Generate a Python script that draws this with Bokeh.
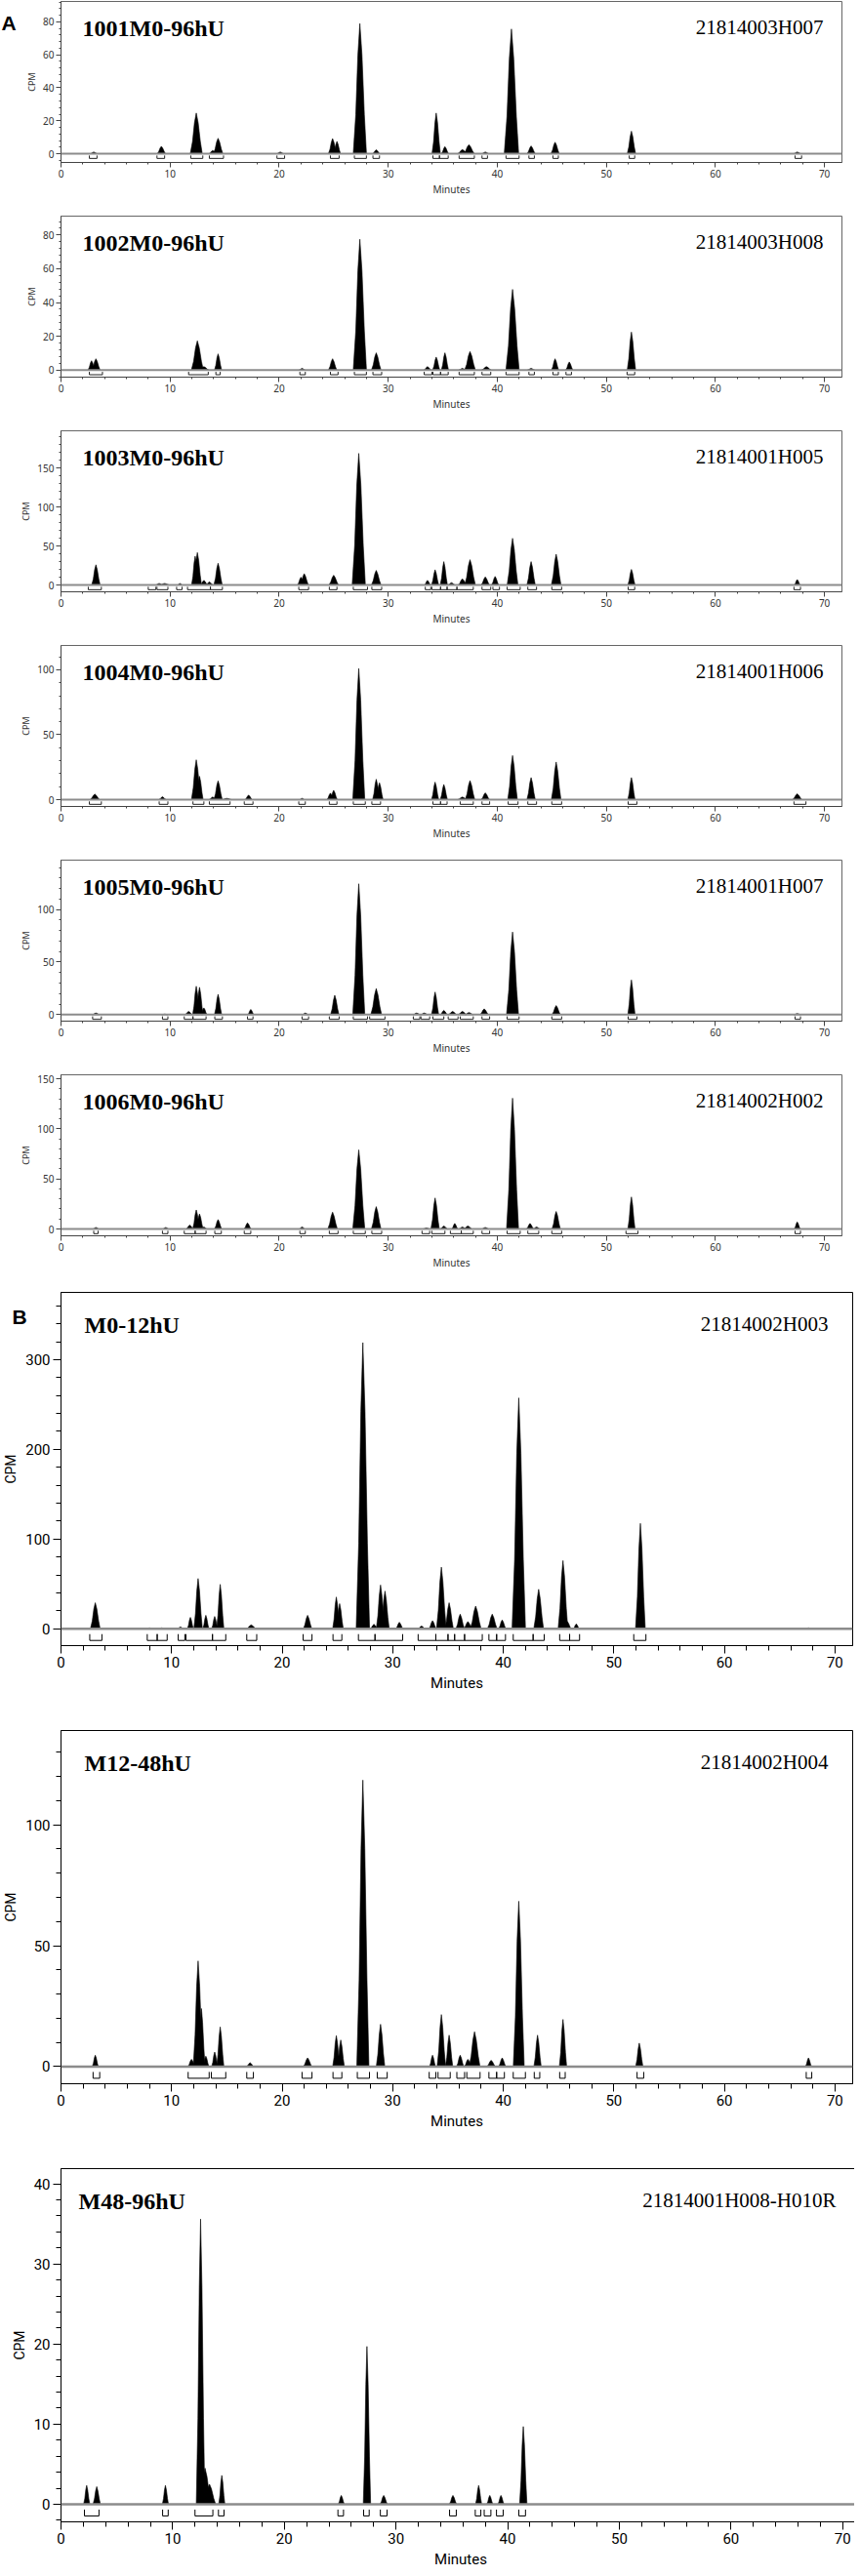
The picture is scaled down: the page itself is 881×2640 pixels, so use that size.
from bokeh.plotting import figure
from bokeh.models import Range1d, FixedTicker, Span, Label
from bokeh.layouts import column
from bokeh.embed import file_html
from bokeh.resources import INLINE
import numpy as np

# ---------------- data ----------------
minutes_ticks = [0, 10, 20, 30, 40, 50, 60, 70]

titles = ["1001M0-96hU", "1002M0-96hU", "1003M0-96hU", "1004M0-96hU", "1005M0-96hU",
          "1006M0-96hU", "M0-12hU", "M12-48hU", "M48-96hU"]
run_ids = ["21814003H007", "21814003H008", "21814001H005", "21814001H006", "21814001H007",
           "21814002H002", "21814002H003", "21814002H004", "21814001H008-H010R"]
panel_letters = {0: "A", 6: "B"}

# y-axis major ticks
y_ticks_1 = [0, 20, 40, 60, 80]
y_ticks_2 = [0, 20, 40, 60, 80]
y_ticks_3 = [0, 50, 100, 150]
y_ticks_4 = [0, 50, 100]
y_ticks_5 = [0, 50, 100]
y_ticks_6 = [0, 50, 100, 150]
y_ticks_7 = [0, 100, 200, 300]
y_ticks_8 = [0, 50, 100]
y_ticks_9 = [0, 10, 20, 30, 40]

# peak retention times (min), heights (CPM) and half base widths (min)
t1 = [3.0, 9.2, 12.4, 13.9, 14.4, 20.1, 24.9, 25.3, 27.4, 28.9, 34.4, 35.2, 36.8, 37.4, 38.9, 41.3, 43.1, 45.3, 52.3, 67.5]
h1 = [1.0, 4.5, 24.7, 2.0, 9.4, 1.0, 9.2, 7.5, 79.0, 2.4, 24.7, 4.3, 2.5, 5.5, 1.0, 75.7, 4.7, 7.0, 13.7, 1.0]
w1 = [0.3, 0.35, 0.5, 0.3, 0.4, 0.3, 0.35, 0.3, 0.55, 0.3, 0.35, 0.3, 0.4, 0.45, 0.3, 0.6, 0.35, 0.35, 0.35, 0.3]

t2 = [2.8, 3.2, 12.5, 13.1, 14.4, 22.1, 24.9, 27.4, 28.9, 33.6, 34.4, 35.2, 36.8, 37.5, 39.0, 41.4, 43.1, 45.3, 46.6, 52.3]
h2 = [5.5, 6.7, 17.3, 2.0, 9.6, 1.0, 6.7, 77.5, 10.2, 2.0, 7.7, 10.2, 1.0, 11.0, 2.0, 47.8, 1.0, 6.7, 4.8, 22.5]
w2 = [0.3, 0.35, 0.5, 0.4, 0.3, 0.25, 0.35, 0.55, 0.4, 0.3, 0.3, 0.3, 0.3, 0.45, 0.4, 0.55, 0.3, 0.3, 0.3, 0.35]

t3 = [3.2, 9.0, 9.5, 10.9, 12.3, 12.5, 13.1, 13.6, 14.4, 22.0, 22.3, 25.0, 27.3, 28.9, 33.6, 34.3, 35.1, 35.8, 36.8, 37.5, 38.9, 39.8, 41.4, 43.1, 45.4, 52.3, 67.5]
h3 = [26, 2, 2, 2, 37, 41.7, 6, 4, 28, 10, 14.6, 12.5, 169, 18.75, 6, 19.6, 30, 3, 8, 32.5, 10.4, 11, 60, 30, 39.6, 20, 7]
w3 = [0.35, 0.3, 0.4, 0.2, 0.3, 0.35, 0.3, 0.3, 0.35, 0.3, 0.35, 0.4, 0.55, 0.4, 0.25, 0.3, 0.3, 0.3, 0.35, 0.45, 0.35, 0.3, 0.45, 0.35, 0.4, 0.3, 0.25]

t4 = [3.1, 9.3, 12.4, 12.7, 13.9, 14.4, 15.2, 17.2, 22.1, 24.7, 25.0, 27.3, 28.9, 29.2, 34.3, 35.1, 36.8, 37.5, 38.9, 41.4, 43.1, 45.4, 52.3, 67.5]
h4 = [4.25, 2.2, 30.7, 18, 2, 14.5, 1, 3.5, 1, 5, 7.2, 101, 15.7, 13, 13.5, 11.7, 2, 14.7, 5.2, 34, 17, 29, 17, 4.5]
w4 = [0.4, 0.3, 0.4, 0.3, 0.3, 0.35, 0.4, 0.3, 0.2, 0.3, 0.3, 0.5, 0.3, 0.3, 0.3, 0.3, 0.4, 0.4, 0.35, 0.4, 0.35, 0.4, 0.3, 0.4]

t5 = [3.2, 9.5, 11.7, 12.4, 12.7, 13.1, 14.4, 17.4, 22.4, 25.1, 27.3, 28.9, 32.6, 33.3, 34.3, 35.1, 35.9, 36.8, 37.4, 38.8, 41.4, 45.4, 52.3, 67.5]
h5 = [1.5, 0.5, 3, 27, 26, 6.4, 19.3, 4.9, 1.5, 18.4, 124.5, 24.8, 1.5, 1.5, 21.5, 4, 3, 3, 2, 5.5, 78.6, 8.6, 33, 1]
w5 = [0.3, 0.25, 0.3, 0.3, 0.3, 0.25, 0.3, 0.25, 0.25, 0.35, 0.5, 0.45, 0.3, 0.3, 0.3, 0.3, 0.35, 0.35, 0.35, 0.35, 0.5, 0.35, 0.3, 0.3]

t6 = [3.2, 9.6, 11.8, 12.4, 12.7, 13.1, 14.4, 17.1, 22.1, 24.9, 27.3, 28.9, 33.5, 34.3, 35.1, 36.1, 36.8, 37.3, 38.9, 41.4, 43.0, 43.6, 45.4, 52.3, 67.5]
h6 = [1.5, 1.5, 4, 19, 15, 2, 9.4, 6.1, 2, 16.8, 79, 22.3, 1, 31, 3, 5.5, 2, 3, 1.5, 130.6, 5.5, 2, 17.5, 32, 7]
w6 = [0.25, 0.25, 0.3, 0.3, 0.3, 0.25, 0.3, 0.3, 0.25, 0.4, 0.5, 0.4, 0.3, 0.35, 0.3, 0.25, 0.3, 0.35, 0.3, 0.5, 0.3, 0.3, 0.35, 0.3, 0.25]

t7 = [3.1, 8.0, 9.1, 10.8, 11.7, 12.4, 13.1, 13.9, 14.4, 17.2, 22.3, 24.9, 25.2, 27.3, 28.3, 28.9, 29.3, 30.6, 32.6, 33.6, 34.4, 35.1, 36.1, 36.8, 37.5, 39.0, 39.9, 41.4, 43.2, 45.4, 45.8, 46.6, 52.4, 67.6]
h7 = [29, 1, 1, 2, 12.7, 56, 15, 13.7, 49.5, 4.3, 15, 35.4, 28, 319, 5, 48.8, 42, 7.2, 3, 9, 68.7, 29, 16.3, 8, 25.3, 16.3, 9.8, 257.4, 44, 76, 8, 5.4, 117.5, 1]
w7 = [0.4, 0.3, 0.35, 0.25, 0.25, 0.35, 0.25, 0.25, 0.3, 0.4, 0.35, 0.3, 0.3, 0.55, 0.3, 0.35, 0.35, 0.3, 0.3, 0.3, 0.4, 0.35, 0.35, 0.35, 0.45, 0.4, 0.3, 0.55, 0.4, 0.4, 0.3, 0.25, 0.4, 0.3]

t8 = [3.1, 11.8, 12.4, 12.7, 13.1, 13.9, 14.4, 17.1, 22.3, 24.9, 25.3, 27.3, 28.9, 33.6, 34.4, 35.1, 36.1, 36.8, 37.4, 38.9, 39.9, 41.4, 43.1, 45.4, 52.3, 67.6]
h8 = [4.7, 3, 43.7, 24, 4.3, 6, 16.4, 1.6, 3.6, 12.8, 11, 118.5, 17.5, 4.7, 21.5, 13, 4.7, 3, 14.4, 2.6, 3.6, 68.4, 13, 19.5, 9.7, 3.6]
w8 = [0.25, 0.3, 0.4, 0.3, 0.25, 0.25, 0.3, 0.3, 0.35, 0.3, 0.3, 0.5, 0.35, 0.25, 0.35, 0.3, 0.3, 0.3, 0.45, 0.35, 0.3, 0.45, 0.3, 0.3, 0.3, 0.25]

t9 = [2.3, 3.2, 9.35, 12.5, 12.9, 13.3, 14.4, 25.1, 27.4, 28.9, 35.1, 37.4, 38.4, 39.4, 41.4]
h9 = [2.35, 2.2, 2.35, 35.6, 4.5, 2.5, 3.6, 1.1, 19.7, 1.1, 1.1, 2.35, 1.1, 1.1, 9.7]
w9 = [0.25, 0.3, 0.25, 0.35, 0.5, 0.5, 0.25, 0.25, 0.3, 0.3, 0.3, 0.25, 0.25, 0.25, 0.3]

# integration regions (start, end in min)
rs1 = [2.6, 8.8, 11.9, 13.6, 19.8, 24.7, 26.9, 28.6, 34.1, 34.7, 36.5, 38.6, 40.8, 42.9, 45.1, 52.1, 67.3]
re1 = [3.3, 9.5, 13.0, 14.9, 20.5, 25.5, 28.0, 29.2, 34.7, 35.5, 37.9, 39.1, 42.0, 43.4, 45.6, 52.6, 67.9]
rs2 = [2.6, 11.7, 14.2, 21.9, 24.7, 26.9, 28.6, 33.3, 34.1, 34.8, 36.5, 38.6, 40.8, 42.9, 45.1, 46.3, 51.9]
re2 = [3.8, 13.5, 14.6, 22.4, 25.4, 28.0, 29.4, 34.0, 34.8, 35.5, 37.9, 39.4, 42.0, 43.4, 45.6, 46.8, 52.6]
rs3 = [2.5, 8.0, 8.8, 10.6, 11.6, 13.7, 21.8, 24.6, 26.8, 28.5, 33.4, 34.0, 34.8, 35.4, 36.3, 38.6, 39.6, 40.9, 42.8, 45.0, 52.0, 67.2]
re3 = [3.7, 8.7, 9.8, 11.1, 13.7, 14.8, 22.7, 25.3, 28.1, 29.4, 33.9, 34.8, 35.4, 36.3, 37.8, 39.4, 40.2, 42.1, 43.6, 45.9, 52.6, 67.8]
rs4 = [2.6, 9.0, 12.1, 13.6, 16.8, 21.8, 24.6, 26.8, 28.5, 34.1, 34.8, 36.6, 38.6, 41.0, 42.8, 45.0, 52.0, 67.2]
re4 = [3.7, 9.8, 13.1, 15.5, 17.6, 22.4, 25.3, 27.9, 29.3, 34.8, 35.4, 37.8, 39.3, 41.9, 43.6, 45.9, 52.8, 68.3]
rs5 = [2.9, 9.3, 11.3, 12.1, 14.1, 17.1, 22.1, 24.6, 26.8, 28.3, 32.3, 33.0, 34.1, 35.5, 36.6, 38.6, 40.9, 45.0, 52.0, 67.3]
re5 = [3.7, 9.8, 12.1, 13.3, 14.8, 17.6, 22.7, 25.5, 28.1, 29.7, 32.9, 33.8, 35.1, 36.4, 37.8, 39.3, 42.0, 45.9, 52.8, 67.8]
rs6 = [3.0, 9.3, 11.3, 12.3, 14.1, 16.8, 21.9, 24.6, 26.8, 28.5, 33.1, 34.0, 35.7, 36.7, 38.6, 40.9, 42.8, 45.0, 51.8, 67.3]
re6 = [3.4, 9.8, 12.3, 13.3, 14.7, 17.4, 22.4, 25.4, 27.9, 29.4, 33.8, 35.2, 36.7, 37.8, 39.3, 42.1, 43.8, 45.9, 52.9, 67.8]
rs7 = [2.6, 7.8, 8.7, 10.6, 11.3, 13.7, 16.8, 21.9, 24.6, 26.9, 28.4, 32.3, 33.9, 35.0, 35.6, 36.5, 38.7, 39.4, 40.9, 42.7, 45.1, 46.0, 51.8]
re7 = [3.7, 8.7, 9.6, 11.2, 13.7, 14.9, 17.7, 22.7, 25.4, 28.4, 30.9, 33.9, 35.0, 35.6, 36.5, 38.1, 39.4, 40.2, 42.7, 43.7, 46.0, 46.9, 52.9]
rs8 = [2.9, 11.5, 13.6, 16.8, 21.8, 24.6, 26.8, 28.6, 33.3, 34.1, 35.8, 36.7, 38.7, 39.4, 40.9, 42.8, 45.1, 52.1, 67.4]
re8 = [3.5, 13.4, 14.9, 17.4, 22.7, 25.4, 27.9, 29.5, 33.9, 35.2, 36.5, 37.9, 39.4, 40.1, 42.0, 43.3, 45.6, 52.7, 67.9]
rs9 = [2.1, 9.1, 12.0, 14.1, 24.8, 27.1, 28.6, 34.8, 37.1, 37.9, 39.0, 41.0]
re9 = [3.4, 9.6, 13.6, 14.6, 25.3, 27.6, 29.2, 35.4, 37.6, 38.5, 39.6, 41.6]

# visible y extent of each frame
y_lo = [-5.3, -4.2, -8.7, -5.25, -6.2, -6.8, -18.8, -7.1, -2.2]
y_hi = [92.4, 91.2, 198, 118.75, 147, 153.9, 375, 139, 41.9]
x_lo, x_hi = 0, 71.6

peaks = [(t1, h1, w1), (t2, h2, w2), (t3, h3, w3), (t4, h4, w4), (t5, h5, w5),
         (t6, h6, w6), (t7, h7, w7), (t8, h8, w8), (t9, h9, w9)]
regions = [(rs1, re1), (rs2, re2), (rs3, re3), (rs4, re4), (rs5, re5),
           (rs6, re6), (rs7, re7), (rs8, re8), (rs9, re9)]
y_ticks = [y_ticks_1, y_ticks_2, y_ticks_3, y_ticks_4, y_ticks_5, y_ticks_6,
           y_ticks_7, y_ticks_8, y_ticks_9]

# ---------------- style ----------------
PEAK_DX = np.array([-1.0, -0.62, -0.3, 0.0, 0.32, 0.68, 1.0]) * 1.1
PEAK_DY = np.array([0.0, 0.3, 0.76, 1.0, 0.76, 0.3, 0.0])


def make_panel(i):
    big = i >= 6
    fw = 811 if i in (6, 7) else (819 if i == 8 else 800)
    fh = 362 if big else 165
    bl = 51 if i in (6, 7) else (43 if i == 8 else 62)
    bt = 4 if big else 1
    bb = 46 if i == 8 else (83 if big else 54)
    y0, y1 = y_lo[i], y_hi[i]
    ink = "black" if big else "#444444"

    p = figure(frame_width=fw, frame_height=fh, x_range=Range1d(x_lo, x_hi),
               y_range=Range1d(y0, y1), output_backend="svg", toolbar_location=None,
               min_border_left=bl, min_border_right=2, min_border_top=bt,
               min_border_bottom=bb, background_fill_color="white")
    p.xgrid.visible = False
    p.ygrid.visible = False
    p.outline_line_color = "black" if big else "#666666"
    p.outline_line_width = 1

    ystep = y_ticks[i][1] - y_ticks[i][0]
    p.xaxis.ticker = FixedTicker(ticks=minutes_ticks, minor_ticks=list(range(0, 72, 2)))
    p.yaxis.ticker = FixedTicker(ticks=y_ticks[i],
                                 minor_ticks=list(np.arange(-ystep, y1, ystep / 5.0)))
    p.xaxis.axis_label = "Minutes"
    p.yaxis.axis_label = "CPM"
    for ax in (p.xaxis, p.yaxis):
        ax.axis_line_color = ink
        ax.major_tick_line_color = ink
        ax.minor_tick_line_color = ink
        ax.major_tick_in = 0
        ax.minor_tick_in = 0
        ax.major_tick_out = 8 if big else 5
        ax.minor_tick_out = 5 if big else 2
        ax.major_label_text_font = "Roboto" if big else "Noto Sans"
        ax.major_label_text_font_size = "15px" if big else "10px"
        ax.major_label_text_color = "black" if big else "#333333"
        ax.axis_label_text_font = "Roboto" if big else "Noto Sans"
        ax.axis_label_text_font_style = "normal"
        ax.axis_label_text_color = "black" if big else "#333333"
        ax.major_label_standoff = 3 if big else 2
        ax.axis_label_standoff = 4 if big else 2
    p.xaxis.axis_label_text_font_size = "15px" if big else "10px"
    p.yaxis.axis_label_text_font_size = "14px" if big else "9px"

    # baseline
    p.add_layout(Span(location=0, dimension="width", line_color="#8c8c8c",
                      line_width=2.5 if big else 2))

    # peaks
    t, h, w = peaks[i]
    xs = [list(tt + ww * PEAK_DX) for tt, ww in zip(t, w)]
    ys = [list(hh * PEAK_DY) for hh in h]
    p.patches(xs=xs, ys=ys, fill_color="black", line_color="black", line_width=0.6)

    # integration region brackets
    upp = (y1 - y0) / fh
    b_top = -(5.5 if big else 1.8) * upp
    b_bot = -(12.0 if big else 4.8) * upp
    rs, re = regions[i]
    bxs = [[s, s, e, e] for s, e in zip(rs, re)]
    bys = [[b_top, b_bot, b_bot, b_top] for _ in rs]
    p.multi_line(xs=bxs, ys=bys, line_color="black" if big else "#222222", line_width=1)

    # sample name and run id
    upx = (x_hi - x_lo) / fw
    left_off = 18 if i == 8 else (24 if big else 22)
    base_off = 33 if big else 27
    p.add_layout(Label(x=x_lo + left_off * upx, y=y1 - base_off * upp, text=titles[i],
                       text_font="Liberation Serif", text_font_style="bold",
                       text_font_size="24px", text_color="black",
                       text_baseline="alphabetic", text_align="left"))
    right_off = 25 if big else 19
    p.add_layout(Label(x=x_hi - right_off * upx, y=y1 - (base_off - 1) * upp, text=run_ids[i],
                       text_font="Liberation Serif", text_font_size="21px",
                       text_color="black", text_baseline="alphabetic", text_align="right"))

    if i in panel_letters:
        # placed in a side panel so that it is not clipped to the frame
        lab = Label(x=x_lo - (bl - 1) * upx, y=y1 - (22 if i == 0 else 25) * upp,
                    text=panel_letters[i], text_font="Liberation Sans",
                    text_font_style="bold", text_font_size="21px", text_color="black",
                    text_baseline="alphabetic", text_align="left")
        p.add_layout(lab, "left" if i == 0 else "below")
    return p


figs = [make_panel(i) for i in range(9)]
layout = column(*figs, spacing=0)
open("out.html", "w").write(file_html(layout, INLINE))
